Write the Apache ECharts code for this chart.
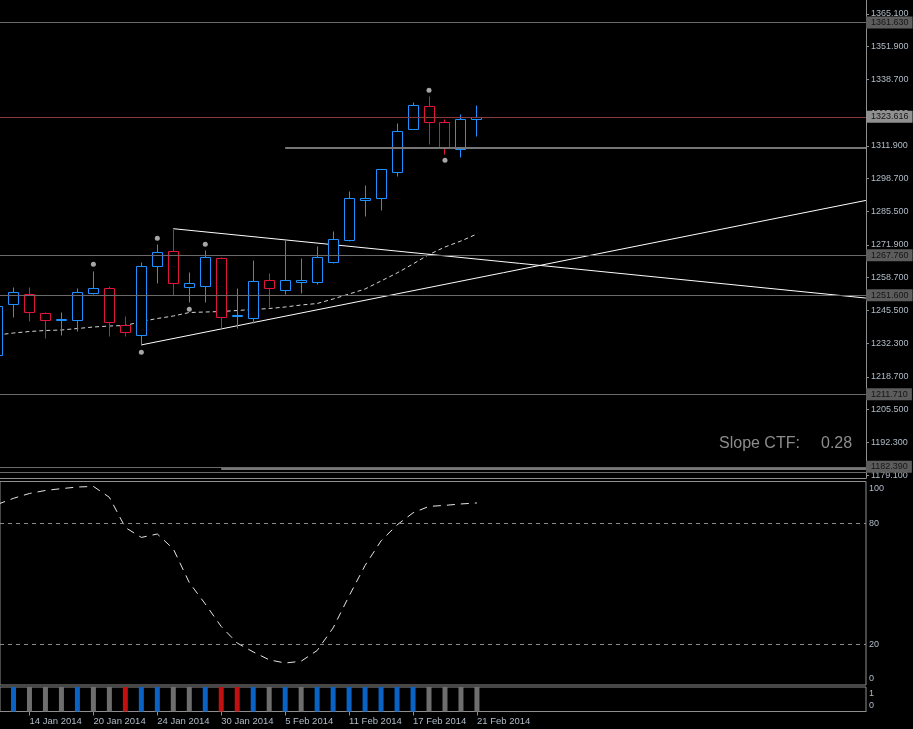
<!DOCTYPE html>
<html>
<head>
    <meta charset="utf-8">
    <title>Chart</title>
    <script src="https://cdn.jsdelivr.net/npm/echarts@6/dist/echarts.min.js"></script>
    <style>
        html, body { margin: 0; padding: 0; background: #000; }
        #chart { width: 913px; height: 729px; }
    </style>
</head>
<body>
<div id="chart"></div>
<script type="text/javascript">
    // daily bars, first one (10 Jan) sits at index -1
    const dates = ['10 Jan 2014',
        '13 Jan 2014', '14 Jan 2014', '15 Jan 2014', '16 Jan 2014', '17 Jan 2014',
        '20 Jan 2014', '21 Jan 2014', '22 Jan 2014', '23 Jan 2014', '24 Jan 2014',
        '27 Jan 2014', '28 Jan 2014', '29 Jan 2014', '30 Jan 2014', '31 Jan 2014',
        '3 Feb 2014', '4 Feb 2014', '5 Feb 2014', '6 Feb 2014', '7 Feb 2014',
        '10 Feb 2014', '11 Feb 2014', '12 Feb 2014', '13 Feb 2014', '14 Feb 2014',
        '17 Feb 2014', '18 Feb 2014', '19 Feb 2014', '20 Feb 2014', '21 Feb 2014'];
    const opens = [1227.52, 1248.22, 1252.01, 1244.35, 1241.52, 1241.52, 1252.42, 1254.43, 1239.51, 1235.47, 1263.31,
        1269.36, 1254.84, 1255.24, 1266.54, 1243.26, 1242.33, 1257.66, 1253.63, 1256.85, 1256.85,
        1264.92, 1273.80, 1289.94, 1290.74, 1301.23, 1318.58, 1327.86, 1321.41, 1310.51, 1322.62];
    const highs = [1248.10, 1254.96, 1254.84, 1244.75, 1244.87, 1254.43, 1261.41, 1255.24, 1243.14, 1264.92, 1272.31,
        1278.48, 1261.01, 1269.89, 1267.18, 1254.43, 1265.85, 1260.49, 1273.80, 1266.54, 1271.38,
        1277.43, 1293.69, 1296.11, 1302.44, 1321.12, 1329.60, 1332.02, 1322.62, 1324.63, 1328.27];
    const lows = [1226.72, 1242.98, 1241.36, 1234.50, 1235.71, 1237.33, 1252.13, 1235.31, 1235.31, 1231.68, 1256.45,
        1251.61, 1248.79, 1248.79, 1238.54, 1238.30, 1240.31, 1246.77, 1252.01, 1252.42, 1256.05,
        1264.52, 1273.40, 1283.48, 1285.90, 1299.62, 1318.58, 1312.53, 1308.50, 1307.29, 1315.76];
    const closes = [1247.29, 1252.82, 1244.75, 1241.52, 1242.05, 1252.82, 1254.43, 1240.72, 1236.68, 1263.31, 1268.96,
        1256.45, 1256.45, 1266.94, 1242.98, 1243.54, 1257.26, 1254.43, 1257.66, 1257.66, 1266.94,
        1274.20, 1290.74, 1290.74, 1302.44, 1317.78, 1328.27, 1321.41, 1311.32, 1322.62, 1323.62];
    const ma = [1235.59, 1236.40, 1237.00, 1237.41, 1237.61, 1238.21, 1238.82, 1239.22, 1239.43, 1241.04, 1242.25,
        1243.26, 1244.67, 1244.87, 1245.07, 1245.48, 1245.88, 1246.28, 1246.89, 1247.70, 1248.30,
        1250.12, 1252.13, 1254.15, 1257.38, 1260.61, 1264.24, 1268.07, 1271.10, 1273.52, 1276.34];
    const osc = [89.4, 92.4, 94.8, 96.3, 97.2, 98.0, 98.3, 92.9, 77.9, 73.0, 74.7,
        67.3, 50.6, 40.0, 28.8, 20.6, 16.2, 12.3, 10.7, 11.6, 16.9,
        28.1, 44.0, 59.1, 71.3, 79.2, 85.2, 88.4, 88.9, 89.6, 90.1];
    // 1 = up, 0 = flat, -1 = down (none for 10 Jan)
    const trend = [null, 1, 0, 0, 0, 1, 0, 0, -1, 1, 1, 0, 0, 1, -1, -1, 1, 0, 1, 0, 1, 1, 1, 1, 1, 1, 1, 0, 0, 0, 0];
    const fractalsUp = [[5, 1264.12], [9, 1274.61], [12, 1272.19], [26, 1334.32]];
    const fractalsDown = [[8, 1228.61], [11, 1245.96], [27, 1306.08]];
    const trendDown = [[10, 1278.48], [53.34, 1250.50]];
    const trendUp = [[8, 1231.60], [53.34, 1289.90]];
    const levels = [1361.63, 1323.616, 1267.76, 1251.6, 1211.71, 1182.39];
    const priceTicks = [1179.1, 1192.3, 1205.5, 1218.7, 1232.3, 1245.5, 1258.7, 1271.9, 1285.5, 1298.7,
        1311.9, 1325.1, 1338.7, 1351.9, 1365.1];
    const dateTicks = [1, 5, 9, 13, 17, 21, 25, 29];
    const slopeCtf = '0.28';

    const upColor = '#1E90FF';
    const downColor = '#E0143C';
    const trendColors = {'1': '#0a62c4', '0': '#6e6e6e', '-1': '#c01010'};
    const labelColor = '#b0bcc8';
    const frameColor = '#8e8e8e';

    const xMin = -0.84375, xMax = 53.34375;

    const candles = opens.map(function (o, i) {
        return [i - 1, o, closes[i], lows[i], highs[i]];
    });
    const maData = ma.map(function (v, i) { return [i - 1, v]; });
    const oscData = osc.map(function (v, i) { return [i - 1, v]; });
    const histData = [];
    trend.forEach(function (t, i) {
        if (t === null) return;
        histData.push({value: [i - 1, 1], itemStyle: {color: trendColors[String(t)]}});
    });

    function renderCandle(params, api) {
        const x = api.value(0);
        const o = api.value(1), c = api.value(2), l = api.value(3), h = api.value(4);
        const pO = api.coord([x, o]), pC = api.coord([x, c]);
        const pH = api.coord([x, h]), pL = api.coord([x, l]);
        const cx = Math.round(pO[0] - 0.5) + 0.5;
        const top = Math.round(Math.min(pO[1], pC[1])) + 0.5;
        const bot = Math.max(Math.round(Math.max(pO[1], pC[1])) + 0.5, top + 1);
        const color = c >= o ? upColor : downColor;
        return {
            type: 'group',
            children: [
                {
                    type: 'line',
                    shape: {x1: cx, y1: Math.round(pH[1]) + 0.5, x2: cx, y2: Math.round(pL[1]) + 0.5},
                    style: {stroke: color, lineWidth: 1}
                },
                {
                    type: 'rect',
                    shape: {x: cx - 5, y: top, width: 10, height: bot - top},
                    style: {fill: '#000', stroke: color, lineWidth: 1}
                }
            ]
        };
    }

    function levelLine(v) {
        const bid = v === 1323.616;
        return {
            yAxis: v,
            lineStyle: {color: bid ? '#8a3a3a' : '#6a6a6a', width: 1, type: 'solid'},
            label: {
                show: true,
                position: 'end',
                distance: 0,
                formatter: v.toFixed(3),
                backgroundColor: bid ? '#909090' : '#5c5c5c',
                color: '#161616',
                padding: [2, 4, 1, 5],
                fontSize: 9,
                fontFamily: 'Liberation Sans'
            }
        };
    }

    const lineStyleGray = {color: '#767676', width: 2, type: 'solid'};
    const noAxisLine = {show: false, onZero: false};

    const chart = echarts.init(document.getElementById('chart'));
    const option = {
        backgroundColor: '#000',
        animation: false,
        grid: [
            {left: -1, right: 47, top: 0, height: 478},
            {left: -1, right: 47, top: 481.5, height: 203.5, show: true, borderColor: frameColor, borderWidth: 1},
            {left: -1, right: 47, top: 687, height: 24.5, show: true, borderColor: frameColor, borderWidth: 1}
        ],
        xAxis: [
            {
                type: 'value', gridIndex: 0, min: xMin, max: xMax,
                axisLine: {show: true, onZero: false, lineStyle: {color: frameColor}},
                axisTick: {show: false}, axisLabel: {show: false}, splitLine: {show: false}
            },
            {
                type: 'value', gridIndex: 1, min: xMin, max: xMax,
                axisLine: noAxisLine, axisTick: {show: false}, axisLabel: {show: false}, splitLine: {show: false}
            },
            {
                type: 'value', gridIndex: 2, min: xMin, max: xMax,
                axisLine: {show: true, onZero: false, lineStyle: {color: frameColor}},
                axisTick: {show: true, customValues: dateTicks, length: 4, lineStyle: {color: frameColor}},
                axisLabel: {
                    customValues: dateTicks,
                    formatter: function (v) { return dates[Math.round(v) + 1]; },
                    align: 'left',
                    margin: 5,
                    color: labelColor,
                    fontSize: 9.5,
                    fontFamily: 'Liberation Sans'
                },
                splitLine: {show: false}
            }
        ],
        yAxis: [
            {
                type: 'value', gridIndex: 0, position: 'right', min: 1177.90, max: 1370.75,
                axisLine: {show: true, onZero: false, lineStyle: {color: frameColor}},
                axisTick: {show: true, customValues: priceTicks, length: 3, lineStyle: {color: frameColor}},
                axisLabel: {
                    customValues: priceTicks,
                    formatter: function (v) { return v.toFixed(3); },
                    margin: 5, color: labelColor, fontSize: 9, fontFamily: 'Liberation Sans'
                },
                splitLine: {show: false}
            },
            {
                type: 'value', gridIndex: 1, position: 'right', min: -0.2, max: 100.74,
                axisLine: noAxisLine, axisTick: {show: false},
                axisLabel: {
                    customValues: [2.94, 20, 80, 97.3],
                    formatter: function (v) {
                        return String([0, 20, 80, 100].reduce(function (a, b) {
                            return Math.abs(b - v) < Math.abs(a - v) ? b : a;
                        }));
                    },
                    margin: 3, color: labelColor, fontSize: 9, fontFamily: 'Liberation Sans'
                },
                splitLine: {show: false}
            },
            {
                type: 'value', gridIndex: 2, position: 'right', min: 0, max: 1,
                axisLine: noAxisLine, axisTick: {show: false},
                axisLabel: {
                    customValues: [0.26, 0.74],
                    formatter: function (v) { return v > 0.5 ? '1' : '0'; },
                    margin: 3, color: labelColor, fontSize: 9, fontFamily: 'Liberation Sans'
                },
                splitLine: {show: false}
            }
        ],
        series: [
            {
                type: 'line', xAxisIndex: 0, yAxisIndex: 0, z: 1,
                data: maData, showSymbol: false, silent: true,
                lineStyle: {color: '#d4d4d4', width: 1, type: [4, 3]},
                markLine: {
                    silent: true, symbol: 'none', animation: false,
                    data: levels.map(levelLine).concat([
                        [{coord: [17, 1311.3], lineStyle: lineStyleGray}, {coord: [xMax, 1311.3]}],
                        [{coord: [13, 1181.53], lineStyle: lineStyleGray}, {coord: [xMax, 1181.53]}],
                        {yAxis: 1180.2, lineStyle: {color: '#6a6a6a', width: 1, type: 'solid'}, label: {show: false}}
                    ]),
                    label: {show: false}
                }
            },
            {
                type: 'line', xAxisIndex: 0, yAxisIndex: 0, z: 2,
                data: trendDown, showSymbol: false, silent: true,
                lineStyle: {color: '#ffffff', width: 1}
            },
            {
                type: 'line', xAxisIndex: 0, yAxisIndex: 0, z: 2,
                data: trendUp, showSymbol: false, silent: true,
                lineStyle: {color: '#ffffff', width: 1}
            },
            {
                type: 'custom', xAxisIndex: 0, yAxisIndex: 0, z: 3, clip: true,
                renderItem: renderCandle,
                encode: {x: 0, y: [1, 2, 3, 4]},
                data: candles
            },
            {
                type: 'scatter', xAxisIndex: 0, yAxisIndex: 0, z: 4,
                data: fractalsUp.concat(fractalsDown),
                symbolSize: 5,
                itemStyle: {color: '#cfcfcf'}
            },
            {
                type: 'line', xAxisIndex: 1, yAxisIndex: 1,
                data: oscData, showSymbol: false, silent: true, clip: true,
                lineStyle: {color: '#e4e4e4', width: 1, type: [8, 6]},
                markLine: {
                    silent: true, symbol: 'none', animation: false,
                    label: {show: false},
                    lineStyle: {color: '#8a8a8a', width: 1, type: [4, 4]},
                    data: [{yAxis: 20}, {yAxis: 80}]
                }
            },
            {
                type: 'bar', xAxisIndex: 2, yAxisIndex: 2,
                barWidth: 5,
                data: histData
            }
        ],
        graphic: [
            {
                type: 'text', left: 719, top: 436,
                style: {text: 'Slope CTF:', fill: '#8c8c8c', font: '16px "Liberation Sans"'}
            },
            {
                type: 'text', left: 821, top: 436,
                style: {text: slopeCtf, fill: '#8c8c8c', font: '16px "Liberation Sans"'}
            }
        ]
    };
    chart.setOption(option);
    window.addEventListener('resize', chart.resize);
</script>
</body>
</html>
